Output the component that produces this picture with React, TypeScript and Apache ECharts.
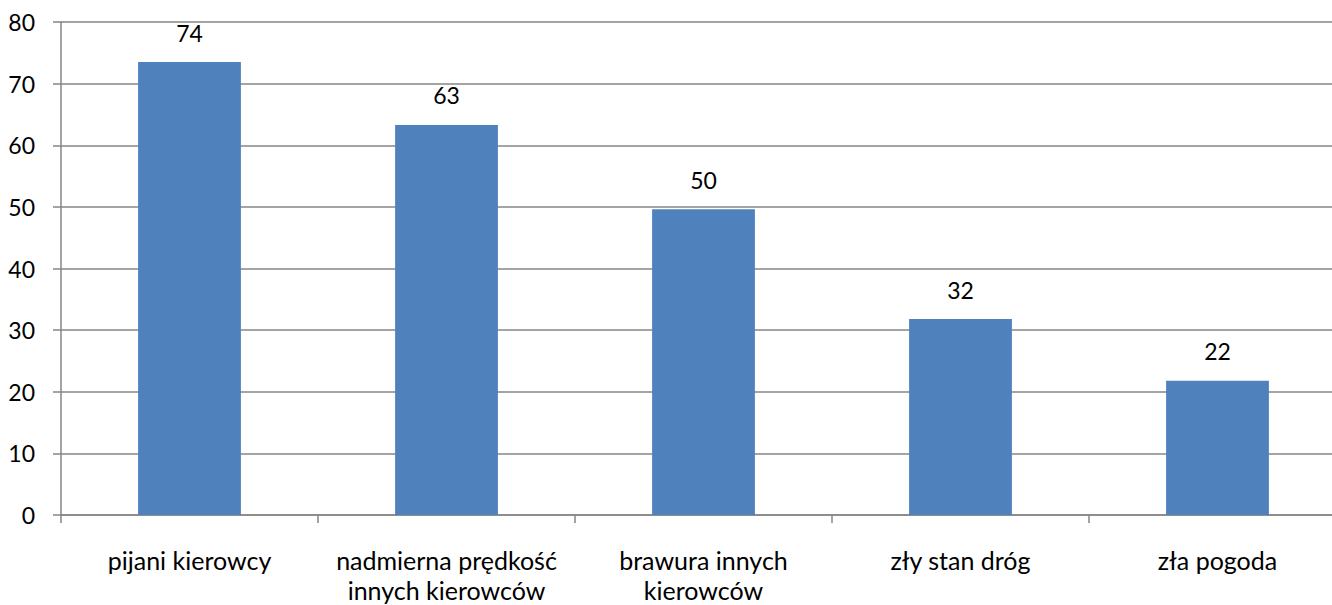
import React, { useEffect, useRef } from "react";
import * as echarts from "echarts";

const categories = [
  "pijani kierowcy",
  "nadmierna prędkość\ninnych kierowców",
  "brawura innych\nkierowców",
  "zły stan dróg",
  "zła pogoda",
];
const values = [73.5, 63.3, 49.6, 31.8, 21.8];
const yTicks = { min: 0, max: 80, interval: 10 };

export default function App() {
  const ref = useRef<HTMLDivElement>(null);
  useEffect(() => {
    document.body.style.margin = "0";
    document.body.style.overflow = "hidden";
    const chart = echarts.init(ref.current!, null, { renderer: "svg" });
    const font = "Lato, 'Open Sans', sans-serif";
    chart.setOption({
      animation: false,
      textStyle: { fontFamily: font },
      grid: { left: 61, right: 0, top: 22, bottom: 87, containLabel: false },
      xAxis: {
        type: "category",
        data: categories,
        axisLine: { lineStyle: { color: "#868686", width: 1.5 } },
        axisTick: { show: true, length: 8, lineStyle: { color: "#868686", width: 1.5 } },
        axisLabel: {
          color: "#000",
          fontSize: 25,
          fontFamily: font,
          margin: 30,
          lineHeight: 30,
          interval: 0,
        },
      },
      yAxis: {
        type: "value",
        min: yTicks.min,
        max: yTicks.max,
        interval: yTicks.interval,
        axisLine: { show: true, lineStyle: { color: "#868686", width: 1.5 } },
        axisTick: { show: true, length: 8, lineStyle: { color: "#868686", width: 1.5 } },
        splitLine: { lineStyle: { color: "#868686", width: 1.5 } },
        axisLabel: { color: "#000", fontSize: 23, fontFamily: font, margin: 26 },
      },
      series: [
        {
          type: "bar",
          data: values,
          barWidth: "40%",
          itemStyle: { color: "#4F81BD" },
          label: {
            show: true,
            position: "top",
            distance: 18,
            color: "#000",
            fontSize: 23,
            fontFamily: font,
            formatter: (p: any) => String(Math.round(p.value)),
          },
        },
      ],
    });
    return () => chart.dispose();
  }, []);
  return (
    <div style={{ width: 1332, height: 605, overflow: "hidden", position: "relative" }}>
      <div ref={ref} style={{ width: 1346, height: 605 }} />
    </div>
  );
}
